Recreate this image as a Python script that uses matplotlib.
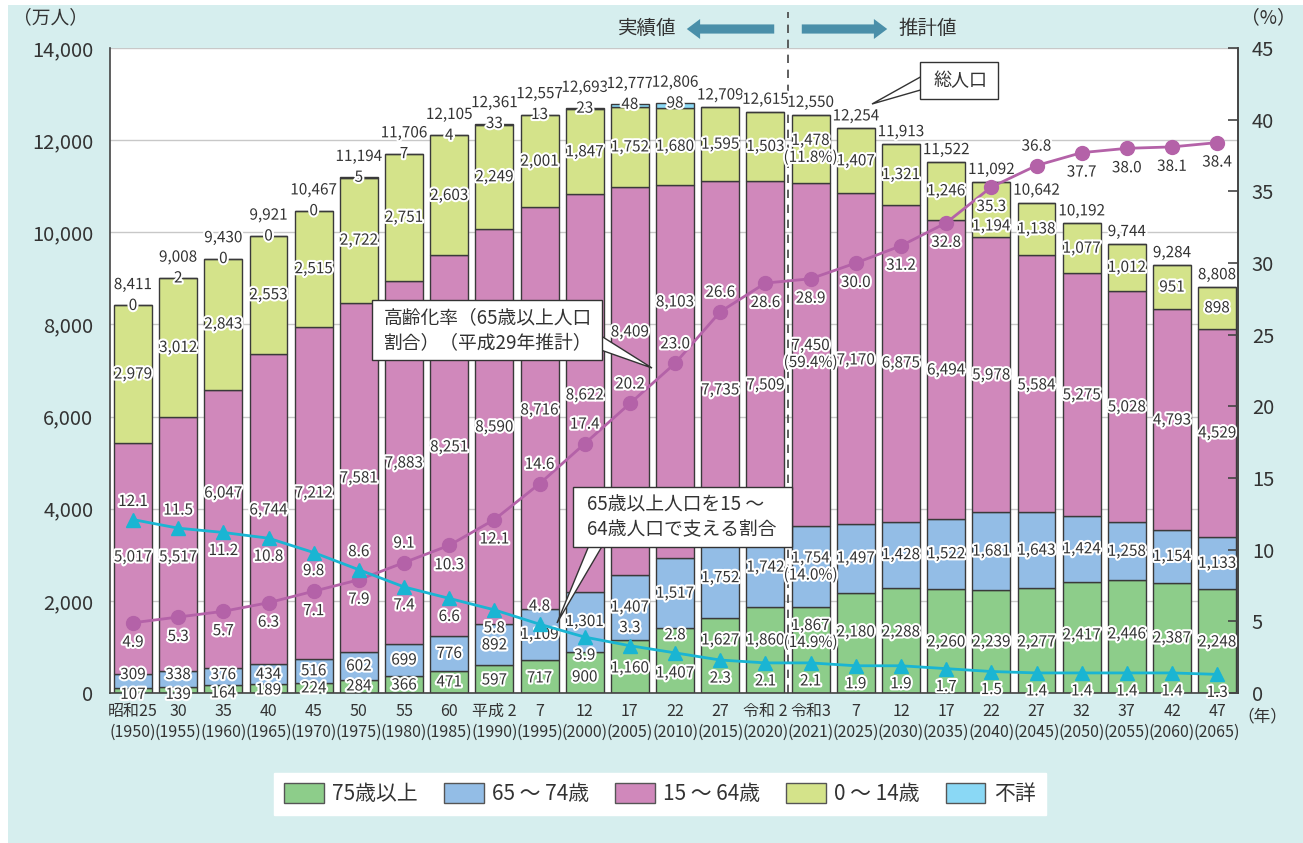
import matplotlib
matplotlib.use('Agg')
import matplotlib.pyplot as plt
import matplotlib.patheffects as pe
from matplotlib.patches import Patch, Rectangle, Polygon, FancyArrowPatch

JP = 'Noto Sans CJK JP'
plt.rcParams['font.family'] = [JP, 'DejaVu Sans']

# ---------------- data ----------------
eras = ['昭和25', '30', '35', '40', '45', '50', '55', '60', '平成 2', '7', '12', '17', '22', '27',
        '令和 2', '令和3', '7', '12', '17', '22', '27', '32', '37', '42', '47']
years = [1950, 1955, 1960, 1965, 1970, 1975, 1980, 1985, 1990, 1995, 2000, 2005, 2010, 2015,
         2020, 2021, 2025, 2030, 2035, 2040, 2045, 2050, 2055, 2060, 2065]
age75 = [107, 139, 164, 189, 224, 284, 366, 471, 597, 717, 900, 1160, 1407, 1627, 1860, 1867,
         2180, 2288, 2260, 2239, 2277, 2417, 2446, 2387, 2248]
age65_74 = [309, 338, 376, 434, 516, 602, 699, 776, 892, 1109, 1301, 1407, 1517, 1752, 1742, 1754,
            1497, 1428, 1522, 1681, 1643, 1424, 1258, 1154, 1133]
age15_64 = [5017, 5517, 6047, 6744, 7212, 7581, 7883, 8251, 8590, 8716, 8622, 8409, 8103, 7735,
            7509, 7450, 7170, 6875, 6494, 5978, 5584, 5275, 5028, 4793, 4529]
age0_14 = [2979, 3012, 2843, 2553, 2515, 2722, 2751, 2603, 2249, 2001, 1847, 1752, 1680, 1595,
           1503, 1478, 1407, 1321, 1246, 1194, 1138, 1077, 1012, 951, 898]
unknown = [0, 2, 0, 0, 0, 5, 7, 4, 33, 13, 23, 48, 98, None, None, None, None, None, None, None,
           None, None, None, None, None]
total = [8411, 9008, 9430, 9921, 10467, 11194, 11706, 12105, 12361, 12557, 12693, 12777, 12806,
         12709, 12615, 12550, 12254, 11913, 11522, 11092, 10642, 10192, 9744, 9284, 8808]
aging_rate = [4.9, 5.3, 5.7, 6.3, 7.1, 7.9, 9.1, 10.3, 12.1, 14.6, 17.4, 20.2, 23.0, 26.6, 28.6,
              28.9, 30.0, 31.2, 32.8, 35.3, 36.8, 37.7, 38.0, 38.1, 38.4]
support = [12.1, 11.5, 11.2, 10.8, 9.8, 8.6, 7.4, 6.6, 5.8, 4.8, 3.9, 3.3, 2.8, 2.3, 2.1, 2.1,
           1.9, 1.9, 1.7, 1.5, 1.4, 1.4, 1.4, 1.4, 1.3]
share_2021 = {'0-14': '11.8%', '15-64': '59.4%', '65-74': '14.0%', '75+': '14.9%'}

# label layout (where the value labels sit, in 万人)
lab_y_15_64 = [2952, 2952, 4341, 3972, 4341, 4667, 4992, 5340, 5774, 6143, 6468, 7836, 8487, 6577,
               6685, 7358, 7228, 7163, 7011, 6902, 6685, 6468, 6208, 5925, 5643]
lab_y_75 = [-30, -30, 0, 65, 109, 152, 174, 239, 282, 326, 347, 543, 434, 1150, 1150, 1281, 1324, 1324,
            1107, 1107, 1107, 1259, 1281, 1194, 1107]
lab_y_0_14_override = {19: 10136}
aging_side = [-1, -1, -1, -1, -1, -1, 1, -1, -1, 1, 1, 1, 1, 1, -1, -1, -1, -1, -1, -1, 1, -1, -1, -1, -1]
support_side = [1, 1, -1, -1, -1, 1, -1, -1, -1, 1, -1, 1, 1, -1, -1, -1, -1, -1, -1, -1, -1, -1, -1, -1, -1]

# ---------------- style ----------------
W, H = 1303, 843
BG = '#d6eeee'
C75, C65, C15, C0, CU = '#8dcd8a', '#93bde6', '#d088bb', '#d4e38a', '#8ad8f5'
CAGE, CSUP = '#b462a8', '#1ab5d3'
TXT = '#333333'
EDGE = '#3a3a3a'
stroke = [pe.withStroke(linewidth=3, foreground='white')]
LFS = 11
NUMFONT = dict(fontsize=LFS, family=[JP])

fig = plt.figure(figsize=(W / 100, H / 100), dpi=100, facecolor='white')
fig.patches.append(Rectangle((8 / W, 0), 1 - 8 / W, 1 - 5 / H, transform=fig.transFigure,
                             facecolor=BG, edgecolor='none', zorder=-10))


def fx(x):
    return x / W


def fy(y):
    return 1 - y / H


ax = fig.add_axes([fx(110), fy(693), (1238 - 110) / W, (693 - 48) / H])
ax.set_facecolor('white')
x = list(range(len(years)))
bw = 0.84

bottom = [0] * len(x)
for vals, col in [(age75, C75), (age65_74, C65), (age15_64, C15), (age0_14, C0)]:
    ax.bar(x, vals, bw, bottom=bottom, color=col, edgecolor=EDGE, linewidth=1.0, zorder=2)
    bottom = [b + v for b, v in zip(bottom, vals)]
unk_vals = [u if u else 0 for u in unknown]
ax.bar(x, unk_vals, bw, bottom=bottom, color=CU, edgecolor=EDGE, linewidth=1.0, zorder=2)
tops = [b + u for b, u in zip(bottom, unk_vals)]

ax.set_xlim(-0.509, 24.46)
ax.set_ylim(0, 14000)
ax.set_yticks(range(0, 14001, 2000))
ax.set_yticklabels([f'{v:,}' for v in range(0, 14001, 2000)], fontsize=14.5, color=TXT)
ax.tick_params(axis='y', length=0, pad=12)
ax.yaxis.grid(True, color='#c8c8c8', linewidth=1.0, zorder=0)
ax.set_axisbelow(True)
ax.set_xticks(x)
ax.set_xticklabels([f'{e}\n({y})' for e, y in zip(eras, years)], fontsize=11.5, color=TXT,
                   linespacing=1.35, family=[JP])
ax.tick_params(axis='x', length=0, pad=7)
ax.spines['top'].set_visible(False)
for s in ['left', 'right', 'bottom']:
    ax.spines[s].set_color('#444444')
    ax.spines[s].set_linewidth(1.2)

lab_kw = dict(ha='center', va='center', color=TXT, path_effects=stroke, zorder=6, clip_on=False,
              **NUMFONT)

for i in x:
    b65 = age75[i]
    b15 = b65 + age65_74[i]
    b0 = b15 + age15_64[i]
    y65 = max(b65 + age65_74[i] / 2, 400)
    y0 = lab_y_0_14_override.get(i, b0 + age0_14[i] / 2)
    if i == 15:
        ax.text(i, lab_y_75[i], f'{age75[i]:,}\n({share_2021["75+"]})', linespacing=1.0, **lab_kw)
        ax.text(i, y65, f'{age65_74[i]:,}\n({share_2021["65-74"]})', linespacing=1.0, **lab_kw)
        ax.text(i, lab_y_15_64[i], f'{age15_64[i]:,}\n({share_2021["15-64"]})', linespacing=1.0, **lab_kw)
        ax.text(i, y0, f'{age0_14[i]:,}\n({share_2021["0-14"]})', linespacing=1.0, **lab_kw)
    else:
        ax.text(i, lab_y_75[i], f'{age75[i]:,}', **lab_kw)
        ax.text(i, y65, f'{age65_74[i]:,}', **lab_kw)
        ax.text(i, lab_y_15_64[i], f'{age15_64[i]:,}', **lab_kw)
        ax.text(i, y0, f'{age0_14[i]:,}', **lab_kw)
    if unknown[i] is not None:
        ax.text(i, tops[i], f'{unknown[i]:,}', **lab_kw)
        off = 15
    else:
        off = 9
    ax.annotate(f'{total[i]:,}', (i, tops[i]), xytext=(0, off), textcoords='offset points',
                ha='center', va='center', color=TXT, path_effects=stroke, zorder=6,
                annotation_clip=False, **NUMFONT)

# dashed divider
ax.plot([14.5, 14.5], [0, 14000 * (693 - 12) / 645], ls=(0, (5, 4)), color='#444444', lw=1.2,
        clip_on=False, zorder=5)

# secondary axis
ax2 = ax.twinx()
ax2.set_ylim(0, 45)
ax2.set_yticks(range(0, 46, 5))
ax2.set_yticklabels([str(v) for v in range(0, 46, 5)], fontsize=14.5, color=TXT)
ax2.tick_params(axis='y', direction='in', length=7, width=1.2, color='#444444', pad=10)
for s in ['top', 'left', 'bottom']:
    ax2.spines[s].set_visible(False)
ax2.spines['right'].set_color('#444444')
ax2.spines['right'].set_linewidth(1.2)

ax2.plot(x, aging_rate, color=CAGE, lw=2, marker='o', markersize=10, zorder=7)
ax2.plot(x, support, color=CSUP, lw=2, marker='^', markersize=10, zorder=7)
for i in x:
    ax2.annotate(f'{aging_rate[i]:.1f}', (i, aging_rate[i]), xytext=(0, 14 * aging_side[i]),
                 textcoords='offset points', ha='center', va='center', color=TXT,
                 path_effects=stroke, zorder=8, annotation_clip=False, **NUMFONT)
    ax2.annotate(f'{support[i]:.1f}', (i, support[i]), xytext=(0, 13 * support_side[i]),
                 textcoords='offset points', ha='center', va='center', color=TXT,
                 path_effects=stroke, zorder=8, annotation_clip=False, **NUMFONT)

# axis unit labels
fig.text(fx(50), fy(18), '（万人）', ha='center', va='center', fontsize=13.5, color=TXT)
fig.text(fx(1268), fy(18), '（%）', ha='center', va='center', fontsize=13.5, color=TXT)
fig.text(fx(1262), fy(717), '（年）', ha='center', va='center', fontsize=12, color=TXT)

# header arrows
fig.text(fx(647), fy(28), '実績値', ha='center', va='center', fontsize=14, color=TXT)
fig.text(fx(928), fy(28), '推計値', ha='center', va='center', fontsize=14, color=TXT)
for (x1, x2) in [(777, 684), (799, 890)]:
    fig.add_artist(FancyArrowPatch((fx(x1), fy(29)), (fx(x2), fy(29)), transform=fig.transFigure,
                                   arrowstyle='simple,head_length=0.8,head_width=1.2,tail_width=0.55',
                                   mutation_scale=12, color='#4a8fa9', lw=0))


# callouts
def callout(box, poly, text, tx, fs):
    x0, y0, x1, y1 = box
    fig.add_artist(Polygon([(fx(px), fy(py)) for px, py in poly], closed=True,
                           transform=fig.transFigure, facecolor='white', edgecolor='#333333',
                           lw=1.0, zorder=20))
    fig.add_artist(Rectangle((fx(x0), fy(y1)), (x1 - x0) / W, (y1 - y0) / H,
                             transform=fig.transFigure, facecolor='white', edgecolor='#333333',
                             lw=1.0, zorder=21))
    fig.text(fx(tx[0]), fy(tx[1]), text, ha='left', va='center', fontsize=fs, color=TXT,
             linespacing=1.25, zorder=22)


callout((372, 300, 602, 360), [(598, 334), (652, 368), (598, 349)],
        '高齢化率（65歳以上人口\n割合）（平成29年推計）', (384, 330), 13.5)
callout((573, 487, 792, 547), [(590, 543), (557, 623), (604, 543)],
        '65歳以上人口を15 ～\n64歳人口で支える割合', (587, 517), 13.5)
callout((920, 62, 998, 99), [(924, 75), (872, 104), (924, 89)],
        '総人口', (934, 81), 13)

# legend
handles = [Patch(facecolor=c, edgecolor='#555555', lw=1.0) for c in [C75, C65, C15, C0, CU]]
labels = ['75歳以上', '65 ～ 74歳', '15 ～ 64歳', '0 ～ 14歳', '不詳']
leg = fig.legend(handles, labels, loc='center', bbox_to_anchor=(fx(660), fy(794)), ncol=5,
                 frameon=True, fancybox=False, edgecolor='white', facecolor='white', framealpha=1,
                 fontsize=15, handlelength=1.9, handleheight=1.1, columnspacing=1.25,
                 handletextpad=0.4, borderpad=0.5)
for t in leg.get_texts():
    t.set_color(TXT)

fig.savefig('out.png', dpi=100, facecolor=fig.get_facecolor())
